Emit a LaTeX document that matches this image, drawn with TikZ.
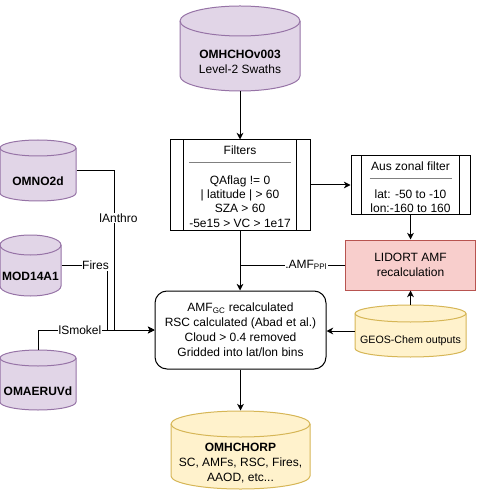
\documentclass[tikz,border=0pt]{standalone}
\usepackage{fontspec}
\setmainfont{Liberation Sans}
\usetikzlibrary{arrows.meta,calc}

\definecolor{purpfill}{HTML}{E1D5E7}
\definecolor{purpline}{HTML}{9673A6}
\definecolor{yelfill}{HTML}{FFF2CC}
\definecolor{yelline}{HTML}{D6B656}
\definecolor{redfill}{HTML}{F8CECC}
\definecolor{redline}{HTML}{B85450}

\newcommand{\px}{0.75pt}
% database drum: name, x, y, width, height, cap radius, style, text y, text
\newcommand{\dbcyl}[9]{%
  \path[#7] (#2,#3+#6) -- (#2,#3+#5-#6)
    arc[start angle=180,end angle=0,x radius=#4/2,y radius=#6]
    -- (#2+#4,#3+#6)
    arc[start angle=0,end angle=-180,x radius=#4/2,y radius=#6] -- cycle;
  \draw[#7,fill=none] (#2,#3+#6) arc[start angle=180,end angle=0,x radius=#4/2,y radius=#6];
  \node[inner sep=0,minimum width=#4*\px,minimum height=#5*\px] (#1) at (#2+#4/2,#3+#5/2) {};
  \node[align=center,inner sep=0] (#1-t) at (#2+#4/2,#8) {#9};
}

\begin{document}
\begin{tikzpicture}[x=0.75pt,y=-0.75pt,line width=0.75pt,
  font=\fontsize{9}{11.25}\selectfont,
  arr/.style={-{Stealth[length=5pt,width=5pt,inset=1.5pt]}},
  purp/.style={fill=purpfill,draw=purpline},
  yel/.style={fill=yelfill,draw=yelline},
  procbox/.style={draw,inner sep=0},
  lbl/.style={fill=white,inner sep=0.5pt}]
\useasboundingbox (0,0) rectangle (476,491);

% data sources
\dbcyl{swath}{180}{6}{120}{85}{15}{purp}{61.5}{\textbf{OMHCHOv003}\\Level-2 Swaths}
\dbcyl{omno}{0}{140}{76}{61}{8}{purp}{181}{\textbf{OMNO2d}}
\dbcyl{modis}{0}{235}{61}{61}{10}{purp}{276}{\textbf{MOD14A1}}
\dbcyl{omaer}{0}{350}{76}{60}{8}{purp}{391}{\textbf{OMAERUVd}}
\dbcyl{geos}{355}{305}{111}{52}{8.5}{yel}{341}{\fontsize{8}{10}\selectfont GEOS-Chem outputs}
\dbcyl{rp}{171}{411}{139}{78}{13}{yel}{463}{\textbf{OMHCHORP}\\SC, AMFs, RSC, Fires,\\AAOD, etc...}

% filters
\node[procbox,minimum width=140*\px,minimum height=90*\px] (filt) at (240,185) {};
\draw ($(filt.north west)+(14,0)$) -- ($(filt.south west)+(14,0)$);
\draw ($(filt.north east)+(-14,0)$) -- ($(filt.south east)+(-14,0)$);
\node (filt-t) at ($(filt.north)+(0,11)$) {Filters};
\draw[gray,line width=1.2pt] ($(filt.north)+(-51,23)$) -- ($(filt.north)+(51,23)$);
\node[align=center,inner sep=0,font=\fontsize{9}{10.7}\selectfont] (filt-b) at ($(filt.north)+(0,62)$)
  {QAflag != 0\\| latitude | > 60\\SZA > 60\\-5e15 > VC > 1e17};

\node[procbox,minimum width=119*\px,minimum height=59*\px] (aus) at (410.5,185.5) {};
\draw ($(aus.north west)+(11,0)$) -- ($(aus.south west)+(11,0)$);
\draw ($(aus.north east)+(-11,0)$) -- ($(aus.south east)+(-11,0)$);
\node (aus-t) at ($(aus.north)+(0,10.5)$) {Aus zonal filter};
\draw[gray,line width=1.2pt] ($(aus.north)+(-41,23)$) -- ($(aus.north)+(41,23)$);
\node[align=center,inner sep=0,font=\fontsize{9}{10.7}\selectfont] (aus-b) at ($(aus.north)+(0,45.5)$)
  {lat: -50 to -10\\lon:-160 to 160};

\node[fill=redfill,draw=redline,minimum width=130*\px,minimum height=50*\px,align=center] (lid) at (410.5,265)
  {LIDORT AMF\\recalculation};

\node[draw,rounded corners=9pt,minimum width=171*\px,minimum height=78*\px,align=center] (main) at (240.5,330)
  {AMF\textsubscript{GC} recalculated\\RSC calculated (Abad et al.)\\Cloud > 0.4 removed\\Gridded into lat/lon bins};

% connectors
\draw[arr] (swath.south) -- (filt.north);
\draw[arr] (filt.east) -- (filt.east -| aus.west);
\draw[arr] (aus.south) -- (lid.north);
\draw[arr] (filt.south) -- (filt.south |- main.north);
\draw (lid.west) -- node[lbl,pos=0.37]{.AMF\textsubscript{PPl}} (lid.west -| filt.south);
\draw[arr] (geos.north) -- (lid.south);
\draw[arr] (geos.west) -- (geos.west -| main.east);
\draw[arr] (main.south) -- (rp.north);

\draw[arr] (omno.east) -| node[lbl,pos=0.65,xshift=3pt]{lAnthro} ($(main.west)+(-40,0)$) -- (main.west);
\draw[arr] (modis.east) -| node[lbl,pos=0.37]{Fires} ($(main.west)+(-47,0)$) -- (main.west);
\draw[arr] (omaer.north) |- node[lbl,pos=0.68]{lSmokel} (main.west);
\end{tikzpicture}
\end{document}
